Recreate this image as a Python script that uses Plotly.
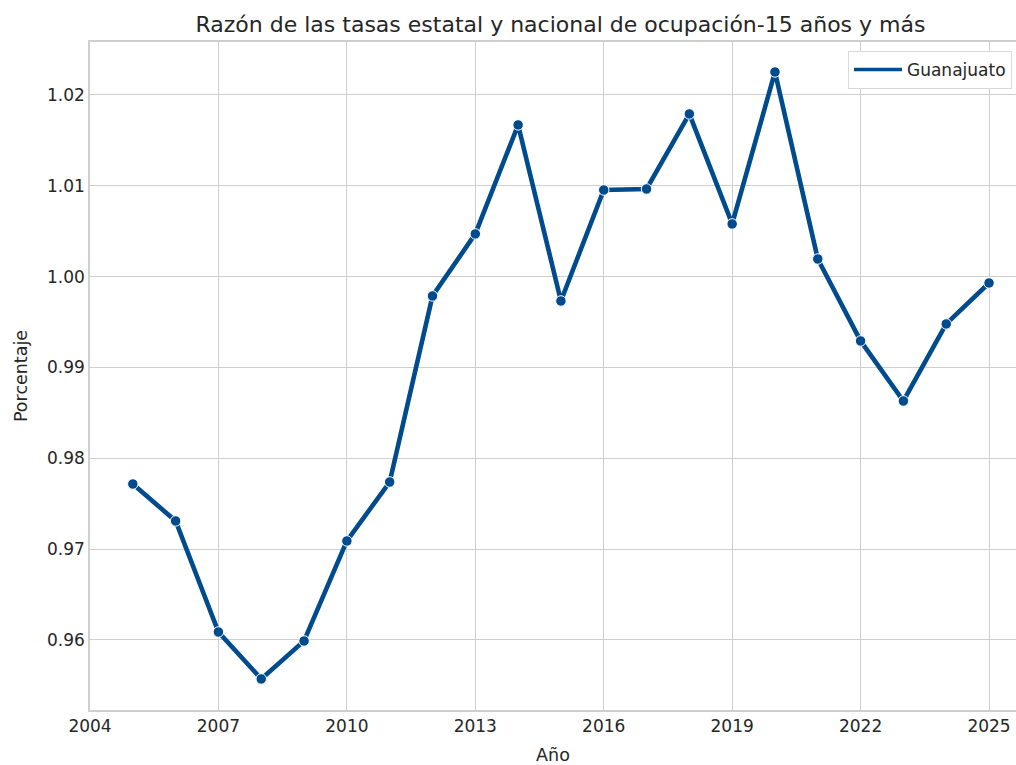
import plotly.graph_objects as go

years = list(range(2005, 2026))
guanajuato = [0.97717, 0.97310, 0.96088, 0.95571, 0.95989, 0.97090, 0.97739,
              0.99787, 1.00470, 1.01670, 0.99732, 1.00954, 1.00965, 1.01791,
              1.00580, 1.02253, 1.00194, 0.99292, 0.98631, 0.99479, 0.99930]
x_ticks = [2004, 2007, 2010, 2013, 2016, 2019, 2022, 2025]
y_ticks = [0.96, 0.97, 0.98, 0.99, 1.00, 1.01, 1.02]
y_tick_labels = ["0.96", "0.97", "0.98", "0.99", "1.00", "1.01", "1.02"]

color = "#004b8d"
font = "DejaVu Sans"
text_color = "#262626"
grid = "#cfcfcf"

fig = go.Figure()
fig.add_trace(go.Scatter(
    x=years, y=guanajuato, mode="lines+markers", name="Guanajuato",
    line=dict(color=color, width=4.6),
    marker=dict(size=10.5, color=color, line=dict(color="white", width=1)),
    showlegend=False,
))
# legend entry (line only, as in the reference)
fig.add_trace(go.Scatter(
    x=[None], y=[None], mode="lines", name="Guanajuato",
    line=dict(color=color, width=3.5), showlegend=True,
))

fig.update_layout(
    width=1016, height=765,
    paper_bgcolor="white", plot_bgcolor="white",
    margin=dict(l=90, r=0, t=42, b=55, autoexpand=False),
    font=dict(family=font, color=text_color, size=17),
    title=dict(text="Razón de las tasas estatal y nacional de ocupación-15 años y más",
               x=560.5 / 1016, xanchor="center", xref="container",
               y=1 - 24 / 765, yanchor="middle", yref="container",
               font=dict(size=22, family=font, color=text_color)),
    showlegend=True,
    legend=dict(x=(848 - 90) / 926, xanchor="left", y=(710 - 51) / 668, yanchor="top",
                bgcolor="white", bordercolor="#d9d9d9", borderwidth=1,
                itemwidth=48, tracegroupgap=0,
                font=dict(size=17, family=font, color=text_color)),
    xaxis=dict(range=[2004, 2025.63], tickvals=x_ticks, ticktext=[str(t) for t in x_ticks],
               showgrid=True, gridcolor=grid, gridwidth=1.2,
               showline=True, linecolor=grid, linewidth=1.5, mirror=True,
               zeroline=False, ticks="", tickfont=dict(size=17),
               title=dict(text="Año", font=dict(size=17.5), standoff=16)),
    yaxis=dict(range=[0.95229, 1.02583], tickvals=y_ticks, ticktext=y_tick_labels,
               showgrid=True, gridcolor=grid, gridwidth=1.2,
               showline=True, linecolor=grid, linewidth=1.5,
               zeroline=False, ticks="", tickfont=dict(size=17),
               title=dict(text="Porcentaje", font=dict(size=17.5), standoff=15)),
)

fig.write_html("out.html", config={"displayModeBar": False},
               post_script="document.body.style.margin='0';")
